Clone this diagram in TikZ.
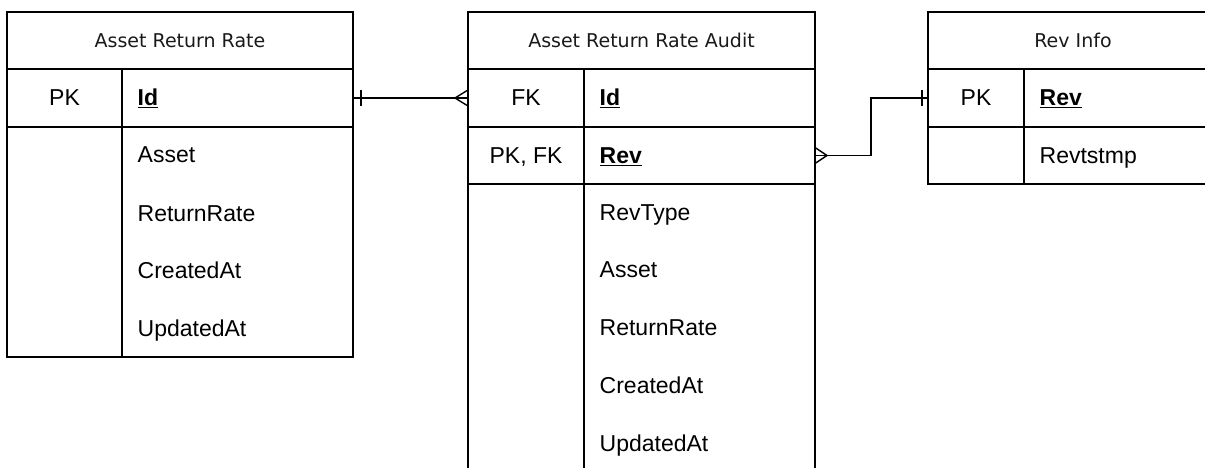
\documentclass[tikz,border=0pt]{standalone}
\usepackage{fontspec}
\setmainfont{Liberation Sans}
\newfontfamily\titlefont{DejaVu Sans}
\begin{document}
\begin{tikzpicture}[x=1pt,y=-1pt,
  line width=1.4pt,
  cell/.style={draw, line width=1.4pt, anchor=north west, inner sep=0pt, outer sep=0pt},
  ttl/.style={font=\titlefont\fontsize{19}{23}\selectfont, text=black!90},
  keytxt/.style={font=\fontsize{23}{27}\selectfont, anchor=base, inner sep=0pt},
  fld/.style={font=\fontsize{23}{27}\selectfont, anchor=base west, inner sep=0pt},
  divider/.style={line width=1.4pt},
  conn/.style={line width=1.4pt}]
\useasboundingbox (0,0) rectangle (1205,468);
\clip (0,0) rectangle (1205,468);

% ---------- Table 1: Asset Return Rate ----------
\node[cell, ttl, minimum width=346pt, minimum height=57pt] (t1title) at (7,12) {Asset Return Rate};
\node[cell, minimum width=346pt, minimum height=58pt] (t1pk) at (7,69) {};
\node[cell, minimum width=346pt, minimum height=230pt] (t1body) at (7,127) {};
\draw[divider] (122,69) -- (122,357);
\node[keytxt] (t1k1) at (64.5,106) {PK};
\node[fld] (t1f1) at (137,106) {\underline{\textbf{Id}}};
\node[fld] (t1f2) at (137,163) {Asset};
\node[fld] (t1f3) at (137,221) {ReturnRate};
\node[fld] (t1f4) at (137,278) {CreatedAt};
\node[fld] (t1f5) at (137,336) {UpdatedAt};

% ---------- Table 2: Asset Return Rate Audit ----------
\node[cell, ttl, minimum width=347pt, minimum height=57pt] (t2title) at (468,12) {Asset Return Rate Audit};
\node[cell, minimum width=347pt, minimum height=58pt] (t2id) at (468,69) {};
\node[cell, minimum width=347pt, minimum height=57pt] (t2rev) at (468,127) {};
\node[cell, minimum width=347pt, minimum height=330pt] (t2body) at (468,184) {};
\draw[divider] (584,69) -- (584,520);
\node[keytxt] (t2k1) at (526,106) {FK};
\node[keytxt] (t2k2) at (526,163.5) {PK, FK};
\node[fld] (t2f1) at (599,106) {\underline{\textbf{Id}}};
\node[fld] (t2f2) at (599,163.5) {\underline{\textbf{Rev}}};
\node[fld] (t2f3) at (599,220) {RevType};
\node[fld] (t2f4) at (599,277) {Asset};
\node[fld] (t2f5) at (599,335) {ReturnRate};
\node[fld] (t2f6) at (599,393) {CreatedAt};
\node[fld] (t2f7) at (599,451) {UpdatedAt};

% ---------- Table 3: Rev Info ----------
\node[cell, ttl, minimum width=290pt, minimum height=57pt] (t3title) at (928,12) {Rev Info};
\node[cell, minimum width=290pt, minimum height=58pt] (t3rev) at (928,69) {};
\node[cell, minimum width=290pt, minimum height=57pt] (t3ts) at (928,127) {};
\draw[divider] (1024,69) -- (1024,184);
\node[keytxt] (t3k1) at (976,106) {PK};
\node[fld] (t3f1) at (1039,106) {\underline{\textbf{Rev}}};
\node[fld] (t3f2) at (1039,163.5) {Revtstmp};

% ---------- Connector 1: one (t1) to many (t2) ----------
\draw[conn] (t1pk.east) -- (t2id.west);
\draw[conn] ([xshift=8pt,yshift=8pt]t1pk.east) -- ([xshift=8pt,yshift=-8pt]t1pk.east);
\draw[conn] ([yshift=8pt]t2id.west) -- ([xshift=-13pt]t2id.west) -- ([yshift=-8pt]t2id.west);

% ---------- Connector 2: many (t2) to one (t3) ----------
\coordinate (c2mid) at (871,125);
\draw[conn] (t2rev.east) -| (c2mid) |- (t3rev.west);
\draw[conn] ([xshift=-6pt,yshift=8pt]t3rev.west) -- ([xshift=-6pt,yshift=-8pt]t3rev.west);
\draw[conn] ([yshift=8pt]t2rev.east) -- ([xshift=12pt]t2rev.east) -- ([yshift=-8pt]t2rev.east);
\end{tikzpicture}
\end{document}
